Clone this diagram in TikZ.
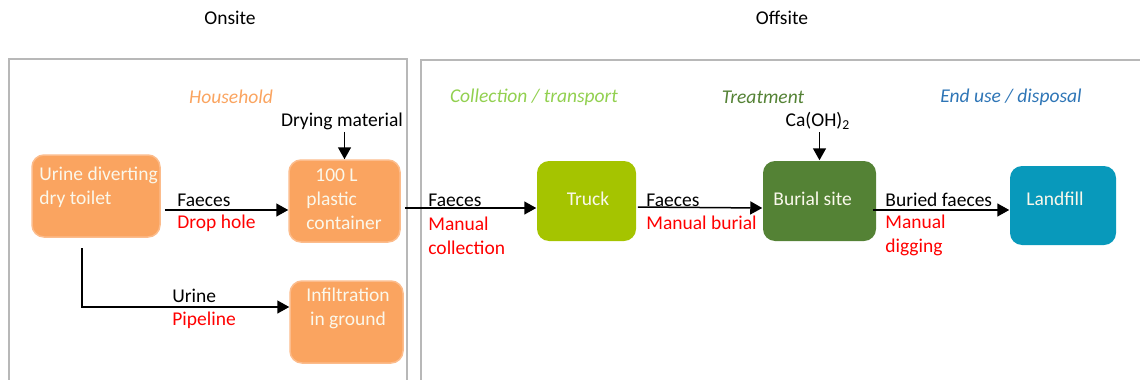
\documentclass[tikz,border=0pt]{standalone}
\usepackage{fontspec}
\setmainfont{Carlito}
\usetikzlibrary{arrows.meta,positioning}

\definecolor{hhorange}{RGB}{250,164,96}
\definecolor{hhedge}{RGB}{252,188,140}
\definecolor{trkgreen}{RGB}{165,196,0}
\definecolor{litegreen}{RGB}{146,208,80}
\definecolor{darkgreen}{RGB}{84,130,53}
\definecolor{fillblue}{RGB}{8,153,187}
\definecolor{endblue}{RGB}{46,117,182}
\definecolor{boxtxt}{RGB}{250,248,235}

\tikzset{
  lbl/.style={inner sep=0pt, font=\fontsize{9.75}{12}\selectfont},
  flow/.style={lbl, text=red, align=left},
  sect/.style={lbl, font=\fontsize{9.75}{12}\selectfont\itshape},
  box/.style={rounded corners=6pt, inner sep=0pt, line width=0.75pt},
  boxtext/.style={lbl, text=boxtxt, align=left},
  arr/.style={-{Triangle[length=6pt,width=6.5pt]}, line width=0.75pt},
  panel/.style={black!28, line width=1pt}
}

\begin{document}
\begin{tikzpicture}[x=0.5pt,y=-0.5pt]
  \useasboundingbox (0,0) rectangle (1140,380);

  % Onsite / offsite panels
  \node[lbl] (onsite) at (230,18) {Onsite};
  \node[lbl] (offsite) at (782,18) {Offsite};
  \draw[panel] (9,380) -- (9,59) -- (407,59) -- (407,380);
  \draw[panel] (421,380) -- (421,60) -- (1140,60);

  % Stage titles
  \node[sect, text=hhorange] (household) at (231,97) {Household};
  \node[sect, text=litegreen] (collect) at (534,97) {Collection / transport};
  \node[sect, text=darkgreen] (treat) at (763,97) {Treatment};
  \node[sect, text=endblue] (enduse) at (1011,97) {End use / disposal};

  % Boxes
  \node[box, fill=hhorange, draw=hhedge, minimum width=64pt, minimum height=41pt] (toilet) at (96,196) {};
  \node[box, fill=hhorange, draw=hhedge, minimum width=55.5pt, minimum height=41pt] (container) at (344.5,201) {};
  \node[box, fill=hhorange, draw=hhedge, minimum width=56.5pt, minimum height=41pt] (infil) at (346.5,322) {};
  \node[box, fill=trkgreen, minimum width=49.5pt, minimum height=40pt] (truck) at (586.5,201) {};
  \node[box, fill=darkgreen, minimum width=56.5pt, minimum height=40pt] (burial) at (819.5,201) {};
  \node[box, fill=fillblue, minimum width=53pt, minimum height=39.5pt] (landfill) at (1063,205.5) {};

  % Box texts
  \node[boxtext, anchor=west] (toilettxt) at (39,187) {Urine diverting\\dry toilet};
  \node[boxtext, anchor=west] (containertxt) at (306,199) {\hspace*{4.5pt}100 L\\plastic\\container};
  \node[boxtext, align=center] (infiltxt) at (348,308) {Infiltration\\in ground};
  \node[boxtext] (trucktxt) at (588,199) {Truck};
  \node[boxtext, anchor=west] (burialtxt) at (773,199) {Burial site};
  \node[boxtext, anchor=west] (landfilltxt) at (1026,199) {Landfill};

  % Inputs
  \node[lbl, inner sep=1pt] (drying) at (342,121) {Drying material};
  \node[lbl, inner sep=1pt] (caoh) at (818,121) {Ca(OH)\textsubscript{2}};
  \draw[arr] (drying.south -| container.north) -- (container.north);
  \draw[arr] (caoh.south -| burial.north) -- (burial.north);

  % Flows
  \draw[arr] ([xshift=2pt,yshift=-7pt]toilet.east) -- ([yshift=-4.5pt]container.west);
  \draw[arr] ([xshift=2pt,yshift=-3.5pt]container.east) -- ([yshift=-3.5pt]truck.west);
  \draw[arr] ([xshift=0.5pt,yshift=-3pt]truck.east) -- ([yshift=-3.5pt]burial.west);
  \draw[arr] ([xshift=-2pt,yshift=-4.5pt]burial.east) -- ([yshift=-2.25pt]landfill.west);
  \coordinate (urinestart) at (82,248);
  \draw[arr] (urinestart) |- ([yshift=7.5pt]infil.west);

  % Flow labels
  \node[lbl, anchor=west] (faeces1) at (177,200) {Faeces};
  \node[flow, anchor=west] (drophole) at (177,223) {Drop hole};
  \node[lbl, anchor=west] (urine) at (172,296) {Urine};
  \node[flow, anchor=west] (pipeline) at (172,320) {Pipeline};
  \node[lbl, anchor=west] (faeces2) at (428,200) {Faeces};
  \node[flow, anchor=west] (mancoll) at (428,235.5) {Manual\\collection};
  \node[lbl, anchor=west] (faeces3) at (646,200) {Faeces};
  \node[flow, anchor=west] (manburial) at (646,223) {Manual burial};
  \node[lbl, anchor=west] (buried) at (885,200) {Buried faeces};
  \node[flow, anchor=west] (mandig) at (885,235.5) {Manual\\digging};
\end{tikzpicture}
\end{document}
